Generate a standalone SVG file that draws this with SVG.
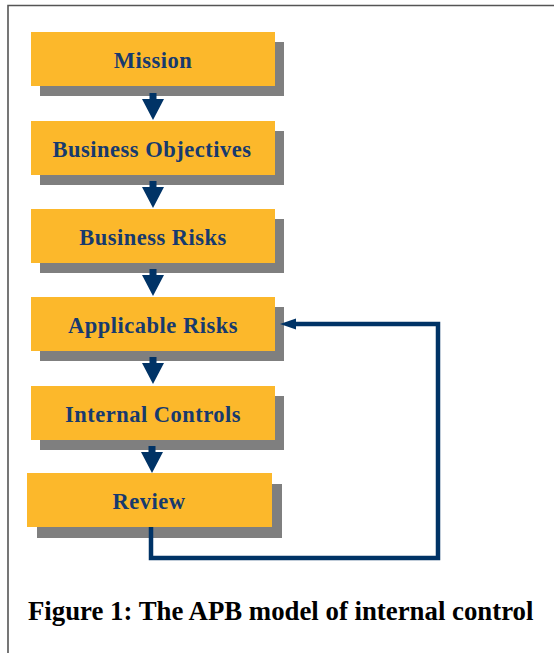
<svg xmlns="http://www.w3.org/2000/svg" width="554" height="653" viewBox="0 0 554 653">
  <style>
    .box { fill: #FCB82B; }
    .shadow { fill: #7F7F7F; }
    .label { font-family: "Liberation Serif", "Times New Roman", serif; font-weight: bold; font-size: 22.5px; letter-spacing: 0.5px; fill: #173A6E; text-anchor: middle; }
    .arrow { fill: #003366; }
    .link { fill: none; stroke: #003366; stroke-width: 4.5; stroke-linejoin: miter; }
    .caption { font-family: "Liberation Serif", "Times New Roman", serif; font-weight: bold; font-size: 26.8px; fill: #000000; }
    .frame { fill: none; stroke: #555555; stroke-width: 1.6; }
  </style>
  <defs>
    <!-- downward flow arrow: short stem and wide head, origin at top of stem -->
    <path id="down" d="M -3.5 0 H 3.5 V 6 H 11 L 0 27 L -11 6 H -3.5 Z"/>
  </defs>

  <rect width="554" height="653" fill="#FFFFFF"/>
  <!-- page frame (top and left edges) -->
  <polyline class="frame" points="554,5.5 8,5.5 8,653"/>

  <g id="mission">
    <rect class="shadow" x="40" y="42" width="244" height="54"/>
    <rect class="box" x="31" y="32" width="244" height="54"/>
    <text class="label" x="153" y="68">Mission</text>
  </g>

  <g id="business-objectives">
    <rect class="shadow" x="40" y="131" width="244" height="54"/>
    <rect class="box" x="31" y="121" width="244" height="54"/>
    <text class="label" x="152" y="157">Business Objectives</text>
  </g>

  <g id="business-risks">
    <rect class="shadow" x="40" y="219" width="244" height="54"/>
    <rect class="box" x="31" y="209" width="244" height="54"/>
    <text class="label" x="153" y="245">Business Risks</text>
  </g>

  <g id="applicable-risks">
    <rect class="shadow" x="40" y="307" width="244" height="54"/>
    <rect class="box" x="31" y="297" width="244" height="54"/>
    <text class="label" x="153" y="333">Applicable Risks</text>
  </g>

  <g id="internal-controls">
    <rect class="shadow" x="40" y="396" width="244" height="54"/>
    <rect class="box" x="31" y="386" width="244" height="54"/>
    <text class="label" x="153" y="422">Internal Controls</text>
  </g>

  <g id="review">
    <rect class="shadow" x="37" y="484" width="245" height="54"/>
    <rect class="box" x="27" y="473" width="245" height="54"/>
    <text class="label" x="149" y="509">Review</text>
  </g>

  <g id="connectors">
    <use href="#down" class="arrow" x="153" y="93"/>
    <use href="#down" class="arrow" x="153" y="181"/>
    <use href="#down" class="arrow" x="153" y="269"/>
    <use href="#down" class="arrow" x="153" y="357"/>
    <use href="#down" class="arrow" x="152" y="446"/>
    <!-- feedback loop from Review back to Applicable Risks -->
    <polyline class="link" points="151,527 151,558 438,558 438,324 294,324"/>
    <polygon class="arrow" points="280,324 296,318.5 296,329.5"/>
  </g>

  <text class="caption" x="28" y="620">Figure 1: The APB model of internal control</text>
</svg>
